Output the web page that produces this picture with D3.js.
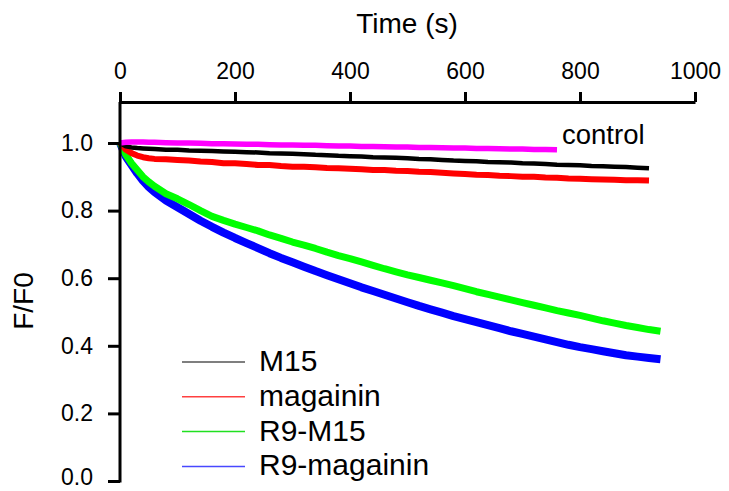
<html>
<head>
<script src="https://d3js.org/d3.v7.min.js"></script>
<style>
  body { margin: 0; background: #fff; }
  text { font-family: "Liberation Sans", Arial, sans-serif; fill: #000; }
</style>
</head>
<body>
<svg id="A" width="729" height="491"></svg>
<script>
// shared time grid (s)
const times = [0, 10, 20, 30, 40, 50, 60,
  80, 100, 120, 140, 160, 180, 200, 220, 240, 260, 280, 300, 320, 340, 360, 380, 400,
  420, 440, 460, 480, 500, 520, 540, 560, 580, 600, 620, 640, 660, 680, 700, 720, 740,
  760, 780, 800, 820, 840, 860, 880, 900, 920, 940];

const control = [1.0, 1.002, 1.003, 1.003, 1.003, 1.002, 1.002,
  1.001, 1.0, 1.0, 0.999, 0.998, 0.998, 0.997, 0.996, 0.996, 0.995, 0.994, 0.994, 0.993, 0.993, 0.992, 0.991, 0.991,
  0.99, 0.99, 0.989, 0.988, 0.988, 0.987, 0.987, 0.986, 0.985, 0.985, 0.984, 0.984, 0.983, 0.982, 0.982, 0.981, 0.981,
  0.98];

const m15 = [1.0, 0.99, 0.987, 0.985, 0.984, 0.983, 0.982,
  0.98, 0.98, 0.978, 0.977, 0.976, 0.975, 0.974, 0.973, 0.972, 0.97, 0.969, 0.968, 0.967, 0.965, 0.964, 0.962, 0.961,
  0.96, 0.958, 0.957, 0.956, 0.955, 0.953, 0.952, 0.95, 0.948, 0.947, 0.946, 0.944, 0.943, 0.942, 0.94, 0.939, 0.938,
  0.936, 0.935, 0.934, 0.932, 0.931, 0.93, 0.929, 0.927, 0.925];

const magainin = [1.0, 0.98, 0.97, 0.963, 0.958, 0.955, 0.953,
  0.952, 0.95, 0.948, 0.945, 0.944, 0.94, 0.94, 0.938, 0.935, 0.935, 0.932, 0.93, 0.93, 0.928, 0.926, 0.925, 0.924,
  0.922, 0.92, 0.92, 0.918, 0.917, 0.915, 0.914, 0.912, 0.91, 0.908, 0.906, 0.905, 0.903, 0.902, 0.9, 0.9, 0.898,
  0.897, 0.895, 0.894, 0.893, 0.892, 0.891, 0.89, 0.89, 0.889];

const r9m15 = [1.0, 0.965, 0.94, 0.92, 0.9, 0.885, 0.872,
  0.85, 0.835, 0.818, 0.8, 0.783, 0.771, 0.76, 0.75, 0.74, 0.728, 0.718, 0.707, 0.698, 0.688, 0.677, 0.667, 0.658,
  0.648, 0.638, 0.628, 0.619, 0.61, 0.602, 0.594, 0.586, 0.578, 0.569, 0.56, 0.552, 0.544, 0.536, 0.528, 0.52, 0.512,
  0.504, 0.497, 0.49, 0.482, 0.474, 0.467, 0.46, 0.454, 0.448, 0.443];

const r9magainin = [1.0, 0.96, 0.935, 0.91, 0.888, 0.87, 0.855,
  0.83, 0.81, 0.79, 0.77, 0.752, 0.735, 0.719, 0.704, 0.689, 0.674, 0.66, 0.647, 0.634, 0.621, 0.609, 0.597, 0.585,
  0.573, 0.562, 0.551, 0.54, 0.529, 0.518, 0.508, 0.498, 0.488, 0.479, 0.47, 0.461, 0.452, 0.443, 0.435, 0.427, 0.419,
  0.411, 0.403, 0.396, 0.39, 0.384, 0.378, 0.372, 0.368, 0.364, 0.36];

const xTicks = [0, 200, 400, 600, 800, 1000];
const yTicks = [0, 0.2, 0.4, 0.6, 0.8, 1.0];

const legendNames = ["M15", "magainin", "R9-M15", "R9-magainin"];
const legendColors = ["#555555", "#ff4040", "#20e020", "#4848ff"];

let svg = d3.select("svg#A");

const x = d3.scaleLinear().domain([0, 1000]).range([120, 695]);
const y = d3.scaleLinear().domain([0, 1]).range([481, 143]);
const axisTop = 102;

// series, back to front
const series = [
  { v: r9magainin, color: "#0000ff", w: 8 },
  { v: r9m15, color: "#00ff00", w: 7 },
  { v: magainin, color: "#ff0000", w: 6 },
  { v: m15, color: "#000000", w: 4.5 },
  { v: control, color: "#ff00ff", w: 5.5 }
];

const line = d3.line().x(d => x(d[0])).y(d => y(d[1]));

series.forEach(s => {
  let pts = s.v.map((val, i) => [times[i], val]);
  svg.append("path")
    .attr("d", line(pts))
    .attr("fill", "none")
    .attr("stroke", s.color)
    .attr("stroke-width", s.w)
    .attr("stroke-linejoin", "round");
});

// top x axis
svg.append("g")
  .attr("transform", `translate(0,${axisTop})`)
  .call(d3.axisTop(x).tickValues(xTicks).tickSize(10).tickSizeOuter(0).tickPadding(13).tickFormat(d3.format("d")))
  .call(g => g.select(".domain").attr("stroke-width", 3))
  .call(g => g.selectAll(".tick line").attr("stroke-width", 3))
  .call(g => g.selectAll(".tick text").attr("font-size", 23).attr("font-family", "Liberation Sans, Arial, sans-serif"));

// left y axis
const yAxis = svg.append("g")
  .attr("transform", "translate(120,0)")
  .call(d3.axisLeft(y).tickValues(yTicks).tickSize(12).tickSizeOuter(0).tickPadding(15).tickFormat(d3.format(".1f")))
  .call(g => g.selectAll(".tick line").attr("stroke-width", 3))
  .call(g => g.selectAll(".tick text").attr("font-size", 23).attr("font-family", "Liberation Sans, Arial, sans-serif"));
yAxis.select(".domain").remove();
// bottom label sits at the window edge, nudge it up so it stays whole
yAxis.selectAll(".tick text").filter(d => d === 0).attr("dy", "0.15em");
svg.append("line")
  .attr("x1", 120).attr("x2", 120)
  .attr("y1", axisTop).attr("y2", y(0) + 1.5)
  .attr("stroke", "#000").attr("stroke-width", 3);

// titles
svg.append("text").attr("x", 407).attr("y", 33).attr("text-anchor", "middle")
  .attr("font-size", 28).text("Time (s)");
svg.append("text").attr("transform", "translate(33,301) rotate(-90)").attr("text-anchor", "middle")
  .attr("font-size", 28).text("F/F0");
svg.append("text").attr("x", 562).attr("y", 144).attr("font-size", 27.5).text("control");

// legend
legendNames.forEach((name, i) => {
  let ly = 362 + i * 34.8;
  svg.append("line").attr("x1", 182).attr("x2", 245).attr("y1", ly).attr("y2", ly)
    .attr("stroke", legendColors[i]).attr("stroke-width", 1.5);
  svg.append("text").attr("x", 259).attr("y", ly + 9).attr("font-size", 30).text(name);
});
</script>
</body>
</html>
